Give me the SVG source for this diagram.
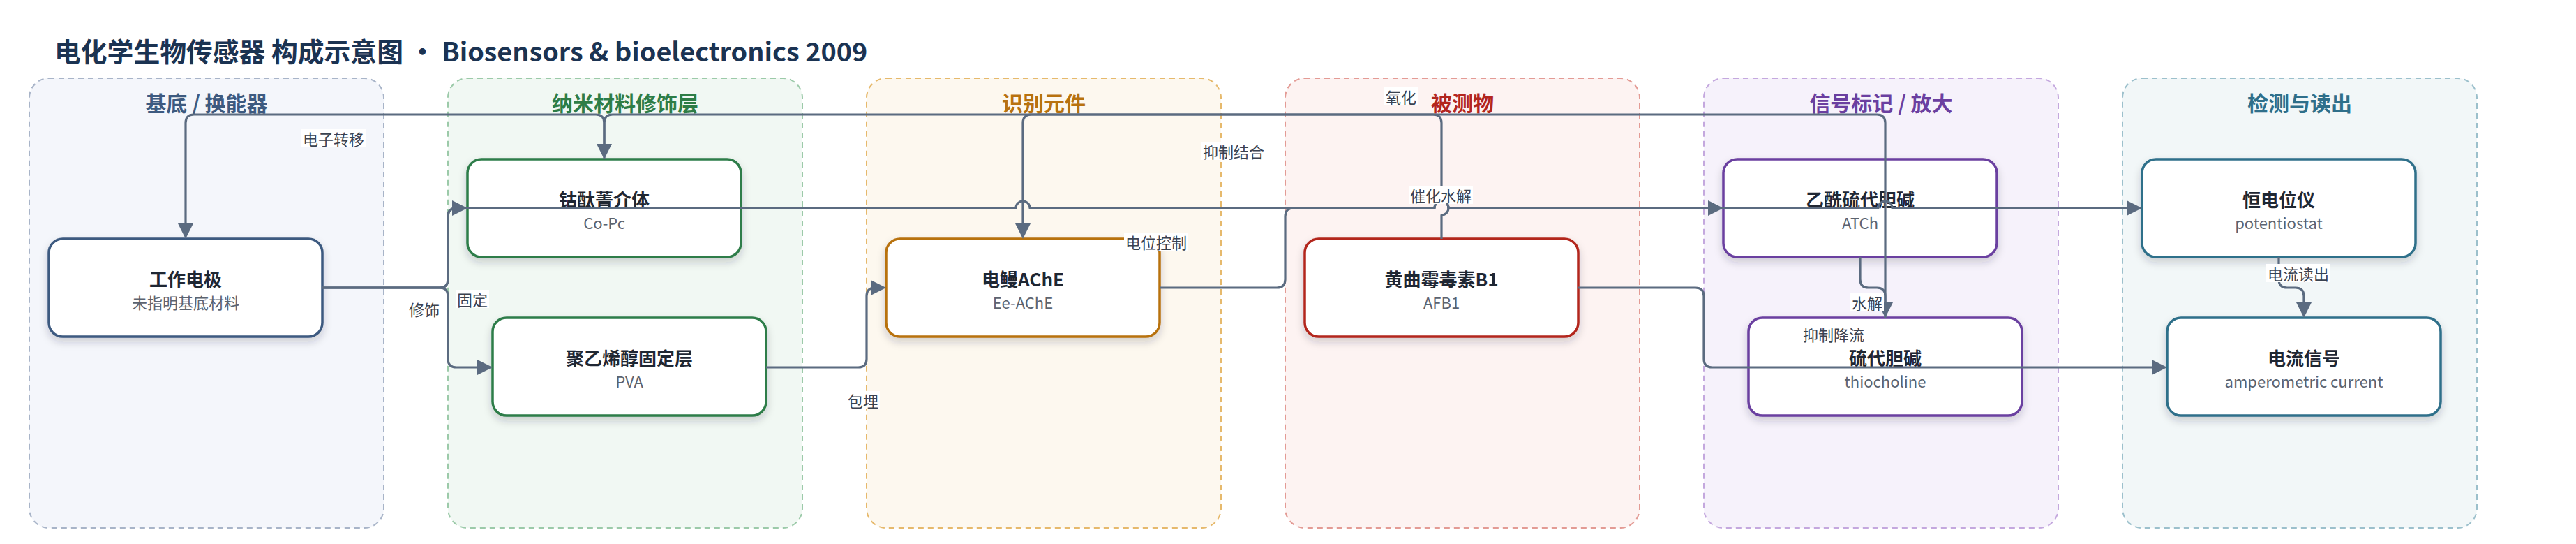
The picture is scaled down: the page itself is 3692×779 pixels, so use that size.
<svg xmlns="http://www.w3.org/2000/svg" width="3692" height="779" viewBox="0 0 3692 779">
<style>
text{font-family:"Noto Sans CJK SC","Noto Sans",sans-serif}
.title{font-size:37.8px;font-weight:700;fill:#1b3352}
.ptitle{font-size:30px;font-weight:700;text-anchor:middle;dominant-baseline:central}
.panel{stroke-width:2;stroke-dasharray:8 6}
.node{fill:#fff;stroke-width:3.5;filter:url(#sh)}
.nt{font-size:26px;font-weight:700;fill:#1f2733;text-anchor:middle;dominant-baseline:central}
.ns{font-size:22px;fill:#5b6370;text-anchor:middle;dominant-baseline:central}
.edge{fill:none;stroke:#5b6b80;stroke-width:3.2;stroke-linejoin:round}
.arr{marker-end:url(#ah)}
.lb{fill:#fff}
.lt{font-size:22px;fill:#3a4250;text-anchor:middle;dominant-baseline:central}
</style>
<defs>
<filter id="sh" x="-10%" y="-20%" width="120%" height="150%">
<feDropShadow dx="0" dy="6" stdDeviation="6" flood-color="#1f2937" flood-opacity="0.2"/>
</filter>
<marker id="ah" markerUnits="userSpaceOnUse" markerWidth="22" markerHeight="22" viewBox="0 0 22 22" refX="11" refY="11" orient="auto">
<path d="M0,0 L22,11 L0,22 z" fill="#5b6b80"/>
</marker>
</defs>
<rect width="3692" height="779" fill="#fff"/>
<text class="title" x="78" y="88">电化学生物传感器 构成示意图 · Biosensors &amp; bioelectronics 2009</text>

<g id="panels">
<g id="panel-substrate"><rect class="panel" x="42" y="112" width="508" height="644" rx="28" fill="#f4f6fb" stroke="#a8b4c8"/><text class="ptitle" x="296" y="146" fill="#3d5a80">基底 / 换能器</text></g>
<g id="panel-nano"><rect class="panel" x="642" y="112" width="508" height="644" rx="28" fill="#f1f8f3" stroke="#9ccaa9"/><text class="ptitle" x="896" y="146" fill="#2e7d46">纳米材料修饰层</text></g>
<g id="panel-recog"><rect class="panel" x="1242" y="112" width="508" height="644" rx="28" fill="#fdf8ef" stroke="#e6b96c"/><text class="ptitle" x="1496" y="146" fill="#b8720f">识别元件</text></g>
<g id="panel-analyte"><rect class="panel" x="1842" y="112" width="508" height="644" rx="28" fill="#fdf3f2" stroke="#e39b95"/><text class="ptitle" x="2096" y="146" fill="#b3261e">被测物</text></g>
<g id="panel-signal"><rect class="panel" x="2442" y="112" width="508" height="644" rx="28" fill="#f6f2fb" stroke="#c4a8de"/><text class="ptitle" x="2696" y="146" fill="#6b3fa0">信号标记 / 放大</text></g>
<g id="panel-detect"><rect class="panel" x="3042" y="112" width="508" height="644" rx="28" fill="#f2f7f8" stroke="#9cc0cc"/><text class="ptitle" x="3296" y="146" fill="#2f6f8a">检测与读出</text></g>
</g>

<g id="nodes">
<g id="n-we"><rect class="node" x="70" y="342" width="392" height="140" rx="20" stroke="#3d5a80"/><text class="nt" x="266" y="398">工作电极</text><text class="ns" x="266" y="432">未指明基底材料</text></g>
<g id="n-copc"><rect class="node" x="670" y="228" width="392" height="140" rx="20" stroke="#2e7d4a"/><text class="nt" x="866" y="284">钴酞菁介体</text><text class="ns" x="866" y="318">Co-Pc</text></g>
<g id="n-pva"><rect class="node" x="706" y="455" width="392" height="140" rx="20" stroke="#2e7d4a"/><text class="nt" x="902" y="511">聚乙烯醇固定层</text><text class="ns" x="902" y="545">PVA</text></g>
<g id="n-ache"><rect class="node" x="1270" y="342" width="392" height="140" rx="20" stroke="#b8720f"/><text class="nt" x="1466" y="398">电鳗AChE</text><text class="ns" x="1466" y="432">Ee-AChE</text></g>
<g id="n-afb1"><rect class="node" x="1870" y="342" width="392" height="140" rx="20" stroke="#b3261e"/><text class="nt" x="2066" y="398">黄曲霉毒素B1</text><text class="ns" x="2066" y="432">AFB1</text></g>
<g id="n-atch"><rect class="node" x="2470" y="228" width="392" height="140" rx="20" stroke="#6b3fa0"/><text class="nt" x="2666" y="284">乙酰硫代胆碱</text><text class="ns" x="2666" y="318">ATCh</text></g>
<g id="n-tch"><rect class="node" x="2506" y="455" width="392" height="140" rx="20" stroke="#6b3fa0"/><text class="nt" x="2702" y="511">硫代胆碱</text><text class="ns" x="2702" y="545">thiocholine</text></g>
<g id="n-pot"><rect class="node" x="3070" y="228" width="392" height="140" rx="20" stroke="#2f6f8a"/><text class="nt" x="3266" y="284">恒电位仪</text><text class="ns" x="3266" y="318">potentiostat</text></g>
<g id="n-cur"><rect class="node" x="3106" y="455" width="392" height="140" rx="20" stroke="#2f6f8a"/><text class="nt" x="3302" y="511">电流信号</text><text class="ns" x="3302" y="545">amperometric current</text></g>
</g>

<g id="connectors">
<path class="edge arr" d="M462,412 H630 Q642,412 642,400 V310 Q642,298 654,298 H659"/>
<path class="edge arr" d="M462,412 H630 Q642,412 642,424 V514 Q642,526 654,526 H695"/>
<path class="edge" d="M462,412 H630 Q642,412 642,400 V310 Q642,298 654,298 H1456 A10,10 0 0 1 1476,298 H2056 A10,10 0 0 1 2076,298 H2692 A10,10 0 0 1 2712,298 H3040"/>
<path class="edge arr" d="M3030,298 H3059"/>
<path class="edge arr" d="M866,228 V176 Q866,164 854,164 H278 Q266,164 266,176 V331"/>
<path class="edge arr" d="M1098,526 H1230 Q1242,526 1242,514 V424 Q1242,412 1254,412 H1259"/>
<path class="edge arr" d="M2066,342 V308 A10,10 0 0 0 2066,288 V176 Q2066,164 2054,164 H1478 Q1466,164 1466,176 V331"/>
<path class="edge" d="M1662,412 H1830 Q1842,412 1842,400 V310 Q1842,298 1854,298 H2056 A10,10 0 0 1 2076,298 H2440"/>
<path class="edge arr" d="M2430,298 H2459"/>
<path class="edge arr" d="M2666,368 V400 Q2666,412 2678,412 H2690 Q2702,412 2702,424 V444"/>
<path class="edge arr" d="M2702,455 V176 Q2702,164 2690,164 H878 Q866,164 866,176 V217"/>
<path class="edge arr" d="M3266,368 V400 Q3266,412 3278,412 H3290 Q3302,412 3302,424 V444"/>
<path class="edge arr" d="M2262,412 H2430 Q2442,412 2442,424 V514 Q2442,526 2454,526 H3095"/>
</g>

<g id="labels">
<rect class="lb" x="432" y="185" width="92" height="26"/><text class="lt" x="478" y="198">电子转移</text>
<rect class="lb" x="584" y="429" width="48" height="26"/><text class="lt" x="608" y="442">修饰</text>
<rect class="lb" x="653" y="415" width="48" height="26"/><text class="lt" x="677" y="428">固定</text>
<rect class="lb" x="1213" y="560" width="48" height="26"/><text class="lt" x="1237" y="573">包埋</text>
<rect class="lb" x="1722" y="203" width="92" height="26"/><text class="lt" x="1768" y="216">抑制结合</text>
<rect class="lb" x="1984" y="125" width="48" height="26"/><text class="lt" x="2008" y="138">氧化</text>
<rect class="lb" x="2019" y="266" width="92" height="26"/><text class="lt" x="2065" y="279">催化水解</text>
<rect class="lb" x="1611" y="333" width="92" height="26"/><text class="lt" x="1657" y="346">电位控制</text>
<rect class="lb" x="2652" y="420" width="48" height="26"/><text class="lt" x="2676" y="433">水解</text>
<rect class="lb" x="2582" y="465" width="92" height="26"/><text class="lt" x="2628" y="478">抑制降流</text>
<rect class="lb" x="3248" y="378" width="92" height="26"/><text class="lt" x="3294" y="391">电流读出</text>
</g>
</svg>
